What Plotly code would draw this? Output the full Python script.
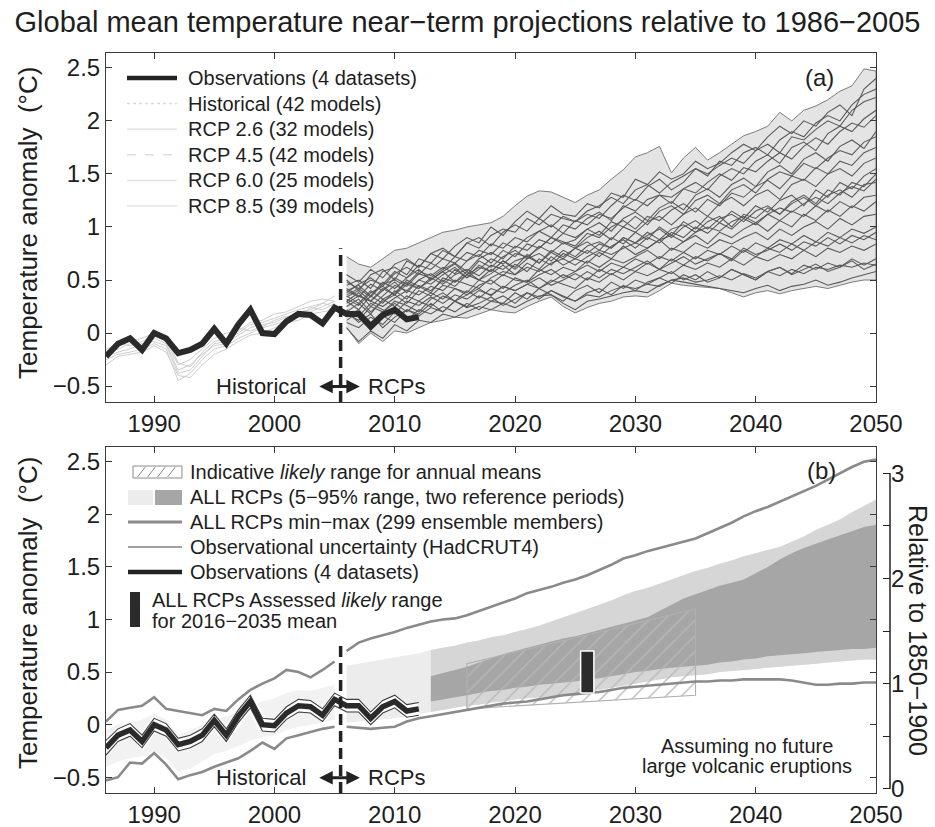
import plotly.graph_objects as go

FONT = "Liberation Sans, Arial, Helvetica, sans-serif"
INK = "#1e1e1e"

# ---------------- data ----------------
obs_years = list(range(1986, 2013))
obs_anom = [-0.22, -0.10, -0.05, -0.16, 0.00, -0.05, -0.19, -0.16, -0.10, 0.04,
            -0.10, 0.08, 0.22, 0.00, -0.01, 0.11, 0.18, 0.17, 0.09, 0.24,
            0.18, 0.18, 0.06, 0.17, 0.22, 0.13, 0.15]
obs_unc_hi = [-0.15, -0.04, 0.01, -0.10, 0.06, 0.01, -0.13, -0.10, -0.04, 0.10,
              -0.04, 0.14, 0.28, 0.06, 0.05, 0.17, 0.24, 0.23, 0.15, 0.30,
              0.24, 0.24, 0.12, 0.23, 0.28, 0.19, 0.21]
obs_unc_lo = [-0.29, -0.16, -0.11, -0.22, -0.06, -0.11, -0.25, -0.22, -0.16, -0.02,
              -0.16, 0.02, 0.16, -0.06, -0.07, 0.05, 0.12, 0.11, 0.03, 0.18,
              0.12, 0.12, 0.00, 0.11, 0.16, 0.07, 0.09]

hist_years = list(range(1986, 2006))
hist_m1 = [-0.20, -0.15, -0.10, -0.12, -0.05, -0.10, -0.35, -0.30, -0.20, -0.12,
           -0.10, -0.02, 0.05, 0.08, 0.10, 0.15, 0.18, 0.20, 0.25, 0.30]
hist_m2 = [-0.25, -0.20, -0.18, -0.15, -0.10, -0.15, -0.45, -0.38, -0.25, -0.15,
           -0.12, -0.05, 0.00, 0.05, 0.08, 0.12, 0.20, 0.22, 0.28, 0.25]
hist_m3 = [-0.15, -0.12, -0.08, -0.05, 0.00, -0.05, -0.28, -0.32, -0.18, -0.08,
           -0.05, 0.00, 0.08, 0.10, 0.14, 0.18, 0.22, 0.25, 0.28, 0.35]
hist_m4 = [-0.30, -0.22, -0.20, -0.18, -0.12, -0.18, -0.40, -0.42, -0.30, -0.20,
           -0.15, -0.08, -0.02, 0.00, 0.05, 0.10, 0.12, 0.18, 0.20, 0.22]
hist_m5 = [-0.18, -0.10, -0.12, -0.08, -0.02, -0.08, -0.30, -0.25, -0.15, -0.05,
           0.00, 0.02, 0.10, 0.12, 0.18, 0.20, 0.25, 0.30, 0.32, 0.30]
hist_m6 = [-0.22, -0.18, -0.15, -0.10, -0.08, -0.12, -0.38, -0.35, -0.22, -0.10,
           -0.08, 0.05, 0.02, 0.06, 0.12, 0.16, 0.15, 0.24, 0.22, 0.28]

rcp_years = list(range(2006, 2051))
rcp_m1 = [0.45, 0.5, 0.42, 0.58, 0.62, 0.55, 0.7, 0.66, 0.78, 0.72, 0.85, 0.8, 0.92, 0.98, 0.95,
          1.08, 1.02, 1.12, 1.08, 1.05, 1.15, 1.2, 1.28, 1.22, 1.35, 1.4, 1.32, 1.42, 1.48, 1.55,
          1.5, 1.58, 1.65, 1.6, 1.72, 1.78, 1.7, 1.85, 1.82, 1.92, 2.0, 1.95, 2.1, 2.18, 2.22]
rcp_m2 = [0.3, 0.38, 0.25, 0.35, 0.45, 0.4, 0.5, 0.46, 0.55, 0.62, 0.52, 0.6, 0.7, 0.65, 0.75,
          0.72, 0.8, 0.9, 0.84, 0.88, 0.98, 0.92, 1.05, 1.0, 1.1, 1.02, 1.15, 1.2, 1.12, 1.25,
          1.3, 1.22, 1.35, 1.4, 1.32, 1.45, 1.52, 1.48, 1.6, 1.55, 1.65, 1.72, 1.68, 1.8, 1.85]
rcp_m3 = [0.2, 0.1, 0.18, 0.05, 0.15, 0.22, 0.18, 0.28, 0.2, 0.3, 0.25, 0.35, 0.3, 0.28, 0.38,
          0.32, 0.42, 0.36, 0.3, 0.4, 0.45, 0.38, 0.48, 0.42, 0.5, 0.46, 0.52, 0.58, 0.5, 0.55,
          0.48, 0.52, 0.6, 0.55, 0.5, 0.58, 0.62, 0.55, 0.6, 0.65, 0.58, 0.62, 0.68, 0.6, 0.65]
rcp_m4 = [0.35, 0.28, 0.4, 0.32, 0.38, 0.48, 0.42, 0.5, 0.58, 0.48, 0.55, 0.62, 0.58, 0.68, 0.6,
          0.7, 0.75, 0.68, 0.78, 0.72, 0.82, 0.86, 0.8, 0.9, 0.85, 0.95, 0.88, 0.98, 1.02, 0.95,
          1.05, 1.1, 1.0, 1.12, 1.08, 1.18, 1.12, 1.22, 1.28, 1.2, 1.3, 1.35, 1.28, 1.4, 1.42]
rcp_m5 = [0.25, 0.32, 0.2, 0.3, 0.36, 0.28, 0.4, 0.35, 0.45, 0.42, 0.38, 0.5, 0.46, 0.55, 0.5,
          0.48, 0.6, 0.55, 0.62, 0.58, 0.68, 0.62, 0.7, 0.66, 0.72, 0.78, 0.7, 0.8, 0.76, 0.85,
          0.8, 0.88, 0.84, 0.9, 0.95, 0.88, 0.98, 0.92, 1.0, 1.05, 0.98, 1.08, 1.02, 1.1, 1.12]
rcp_m6 = [0.5, 0.4, 0.55, 0.6, 0.5, 0.68, 0.62, 0.75, 0.7, 0.82, 0.9, 0.85, 1.0, 0.92, 1.05,
          1.15, 1.08, 1.2, 1.12, 1.1, 1.22, 1.18, 1.32, 1.28, 1.45, 1.4, 1.52, 1.45, 1.5, 1.62,
          1.55, 1.6, 1.7, 1.78, 1.72, 1.85, 1.95, 1.88, 2.0, 1.95, 2.08, 2.15, 2.05, 2.3, 2.4]
rcp_m7 = [0.15, 0.22, 0.1, 0.2, 0.28, 0.2, 0.3, 0.25, 0.35, 0.3, 0.4, 0.33, 0.42, 0.38, 0.45,
          0.5, 0.42, 0.48, 0.55, 0.5, 0.58, 0.52, 0.6, 0.56, 0.62, 0.68, 0.6, 0.66, 0.72, 0.65,
          0.7, 0.75, 0.68, 0.78, 0.72, 0.8, 0.76, 0.84, 0.78, 0.86, 0.82, 0.9, 0.85, 0.92, 0.88]
rcp_m8 = [0.4, 0.45, 0.35, 0.48, 0.42, 0.52, 0.6, 0.5, 0.58, 0.65, 0.55, 0.68, 0.62, 0.72, 0.78,
          0.7, 0.82, 0.76, 0.85, 0.8, 0.9, 0.96, 0.88, 1.0, 0.95, 1.05, 1.1, 1.02, 1.12, 1.18,
          1.1, 1.22, 1.28, 1.2, 1.3, 1.35, 1.26, 1.4, 1.45, 1.38, 1.5, 1.55, 1.48, 1.6, 1.65]
rcp_m9 = [0.1, 0.05, 0.15, 0.08, 0.2, 0.12, 0.22, 0.18, 0.25, 0.2, 0.28, 0.22, 0.3, 0.35, 0.28,
          0.38, 0.32, 0.4, 0.35, 0.3, 0.38, 0.42, 0.36, 0.45, 0.4, 0.48, 0.52, 0.47, 0.55, 0.5,
          0.58, 0.52, 0.6, 0.55, 0.5, 0.58, 0.62, 0.56, 0.64, 0.6, 0.66, 0.62, 0.7, 0.64, 0.7]
rcp_m10 = [0.3, 0.22, 0.35, 0.28, 0.4, 0.32, 0.45, 0.4, 0.5, 0.44, 0.55, 0.5, 0.6, 0.54, 0.65,
           0.58, 0.7, 0.64, 0.75, 0.7, 0.78, 0.72, 0.82, 0.88, 0.8, 0.9, 0.85, 0.95, 0.9, 1.0,
           0.94, 1.04, 0.98, 1.08, 1.02, 1.12, 1.06, 1.15, 1.1, 1.2, 1.14, 1.24, 1.18, 1.28, 1.3]
rcp_m11 = [0.38, 0.46, 0.52, 0.44, 0.56, 0.62, 0.55, 0.66, 0.6, 0.72, 0.68, 0.78, 0.74, 0.85, 0.8,
           0.9, 0.96, 0.9, 1.02, 0.98, 1.08, 1.14, 1.06, 1.2, 1.15, 1.26, 1.3, 1.22, 1.36, 1.42,
           1.35, 1.48, 1.55, 1.5, 1.62, 1.68, 1.6, 1.75, 1.8, 1.72, 1.88, 1.95, 1.9, 2.02, 2.1]
rcp_m12 = [0.2, 0.28, 0.18, 0.32, 0.25, 0.35, 0.3, 0.38, 0.32, 0.42, 0.36, 0.45, 0.5, 0.42, 0.52,
           0.48, 0.55, 0.6, 0.52, 0.58, 0.64, 0.58, 0.66, 0.62, 0.7, 0.65, 0.72, 0.68, 0.76, 0.7,
           0.78, 0.74, 0.82, 0.76, 0.85, 0.8, 0.88, 0.84, 0.92, 0.86, 0.95, 0.9, 0.98, 0.94, 1.0]
rcp_m13 = [0.42, 0.35, 0.3, 0.4, 0.48, 0.38, 0.5, 0.56, 0.48, 0.6, 0.52, 0.64, 0.58, 0.68, 0.62,
           0.74, 0.66, 0.78, 0.72, 0.8, 0.86, 0.78, 0.9, 0.84, 0.95, 0.88, 1.0, 0.92, 1.05, 0.98,
           1.1, 1.04, 1.15, 1.08, 1.2, 1.14, 1.25, 1.3, 1.2, 1.35, 1.28, 1.42, 1.36, 1.48, 1.55]
rcp_m14 = [0.05, -0.08, 0.02, -0.05, 0.08, 0.02, 0.12, 0.1, 0.18, 0.15, 0.2, 0.25, 0.22, 0.28, 0.24,
           0.3, 0.35, 0.36, 0.28, 0.22, 0.3, 0.32, 0.35, 0.38, 0.4, 0.38, 0.45, 0.5, 0.48, 0.46,
           0.44, 0.42, 0.4, 0.38, 0.42, 0.45, 0.4, 0.44, 0.46, 0.5, 0.45, 0.48, 0.52, 0.55, 0.58]
rcp_m15 = [0.28, 0.35, 0.3, 0.25, 0.33, 0.4, 0.36, 0.44, 0.4, 0.5, 0.46, 0.42, 0.52, 0.58, 0.55,
           0.62, 0.58, 0.66, 0.7, 0.64, 0.72, 0.78, 0.74, 0.8, 0.85, 0.8, 0.88, 0.92, 0.86, 0.95,
           1.0, 0.96, 1.05, 1.1, 1.04, 1.12, 1.18, 1.14, 1.22, 1.28, 1.22, 1.32, 1.38, 1.34, 1.45]
rcp_m16 = [0.55, 0.48, 0.6, 0.52, 0.65, 0.7, 0.62, 0.75, 0.8, 0.72, 0.85, 0.9, 0.82, 0.95, 1.02,
           0.96, 1.08, 1.0, 1.1, 1.05, 1.12, 1.08, 1.2, 1.3, 1.25, 1.38, 1.45, 1.35, 1.42, 1.55,
           1.48, 1.62, 1.58, 1.7, 1.75, 1.68, 1.82, 1.9, 1.85, 1.98, 2.05, 2.0, 2.15, 2.25, 2.3]
rcp_m17 = [0.32, 0.26, 0.38, 0.44, 0.36, 0.46, 0.42, 0.52, 0.46, 0.55, 0.6, 0.54, 0.64, 0.6, 0.68,
           0.72, 0.66, 0.76, 0.7, 0.8, 0.75, 0.84, 0.8, 0.9, 0.85, 0.92, 0.98, 0.9, 1.0, 1.06,
           0.98, 1.08, 1.12, 1.05, 1.15, 1.2, 1.12, 1.24, 1.3, 1.22, 1.35, 1.3, 1.42, 1.38, 1.5]
rcp_m18 = [0.18, 0.12, 0.25, 0.2, 0.3, 0.26, 0.2, 0.32, 0.38, 0.3, 0.36, 0.42, 0.35, 0.44, 0.4,
           0.46, 0.52, 0.45, 0.5, 0.56, 0.5, 0.6, 0.55, 0.62, 0.58, 0.66, 0.6, 0.7, 0.64, 0.72,
           0.68, 0.75, 0.7, 0.8, 0.74, 0.78, 0.84, 0.78, 0.86, 0.82, 0.9, 0.84, 0.92, 0.88, 0.95]
rcp_m19 = [0.36, 0.42, 0.34, 0.46, 0.5, 0.44, 0.56, 0.52, 0.6, 0.66, 0.58, 0.7, 0.76, 0.7, 0.82,
           0.78, 0.88, 0.84, 0.94, 0.9, 0.98, 1.04, 0.96, 1.08, 1.14, 1.06, 1.18, 1.24, 1.16, 1.3,
           1.36, 1.28, 1.4, 1.46, 1.38, 1.52, 1.58, 1.5, 1.64, 1.7, 1.62, 1.76, 1.82, 1.74, 1.9]
rcp_m20 = [0.22, 0.16, 0.28, 0.22, 0.18, 0.3, 0.26, 0.34, 0.28, 0.36, 0.32, 0.4, 0.36, 0.44, 0.4,
           0.46, 0.42, 0.5, 0.46, 0.42, 0.52, 0.48, 0.56, 0.5, 0.58, 0.54, 0.6, 0.56, 0.64, 0.6,
           0.66, 0.62, 0.7, 0.64, 0.72, 0.68, 0.74, 0.7, 0.78, 0.72, 0.8, 0.76, 0.82, 0.78, 0.84]
rcp_m21 = [0.34, 0.4, 0.3, 0.42, 0.36, 0.5, 0.44, 0.38, 0.52, 0.48, 0.58, 0.5, 0.56, 0.64, 0.55,
           0.66, 0.6, 0.72, 0.64, 0.7, 0.66, 0.76, 0.7, 0.82, 0.74, 0.8, 0.88, 0.78, 0.86, 0.92,
           0.84, 0.95, 0.9, 0.98, 1.04, 0.96, 1.06, 1.0, 1.12, 1.06, 1.16, 1.1, 1.2, 1.15, 1.24]
rcp_m22 = [0.48, 0.42, 0.5, 0.46, 0.58, 0.52, 0.64, 0.6, 0.7, 0.66, 0.76, 0.72, 0.84, 0.8, 0.9,
           0.86, 0.96, 1.02, 0.94, 1.06, 1.02, 1.12, 1.08, 1.18, 1.26, 1.2, 1.3, 1.28, 1.36, 1.32,
           1.42, 1.5, 1.44, 1.56, 1.52, 1.62, 1.7, 1.64, 1.76, 1.84, 1.78, 1.9, 1.98, 1.94, 2.05]
rcp_m23 = [0.12, 0.2, 0.08, 0.16, 0.1, 0.22, 0.16, 0.24, 0.2, 0.3, 0.24, 0.28, 0.34, 0.26, 0.32,
           0.38, 0.34, 0.4, 0.34, 0.3, 0.36, 0.34, 0.4, 0.44, 0.42, 0.46, 0.44, 0.5, 0.52, 0.48,
           0.5, 0.54, 0.5, 0.56, 0.52, 0.58, 0.54, 0.6, 0.56, 0.62, 0.6, 0.64, 0.62, 0.66, 0.64]
rcp_m24 = [0.4, 0.34, 0.46, 0.4, 0.52, 0.46, 0.58, 0.54, 0.62, 0.56, 0.68, 0.74, 0.66, 0.78, 0.72,
           0.84, 0.8, 0.9, 0.86, 0.82, 0.94, 0.9, 1.0, 1.06, 0.98, 1.1, 1.06, 1.16, 1.22, 1.14,
           1.26, 1.2, 1.32, 1.28, 1.38, 1.44, 1.36, 1.48, 1.44, 1.56, 1.5, 1.62, 1.58, 1.7, 1.75]
rcp_env_hi = [0.72, 0.65, 0.62, 0.7, 0.78, 0.8, 0.85, 0.9, 0.95, 0.97, 1.0, 1.02, 1.04, 1.1, 1.2,
              1.29, 1.34, 1.33, 1.28, 1.23, 1.3, 1.35, 1.45, 1.54, 1.66, 1.7, 1.76, 1.51, 1.65, 1.75,
              1.63, 1.7, 1.78, 1.86, 1.9, 1.95, 2.08, 2.0, 2.1, 2.14, 2.2, 2.28, 2.33, 2.49, 2.47]
rcp_env_lo = [0.05, -0.1, 0.0, -0.08, 0.02, 0.0, 0.05, 0.1, 0.12, 0.15, 0.14, 0.18, 0.22, 0.2, 0.19,
              0.25, 0.3, 0.34, 0.25, 0.19, 0.24, 0.28, 0.3, 0.34, 0.35, 0.34, 0.4, 0.47, 0.45, 0.44,
              0.43, 0.42, 0.38, 0.34, 0.38, 0.4, 0.37, 0.4, 0.42, 0.44, 0.42, 0.45, 0.48, 0.5, 0.5]

all_years = list(range(1986, 2051))
minmax_hi = [0.03, 0.14, 0.16, 0.18, 0.26, 0.15, 0.13, 0.11, 0.09, 0.15,
             0.13, 0.24, 0.33, 0.39, 0.44, 0.52, 0.5, 0.45, 0.52, 0.6,
             0.7, 0.78, 0.82, 0.85, 0.88, 0.92, 0.95, 0.98, 1.0, 1.01,
             1.04, 1.08, 1.12, 1.16, 1.2, 1.25, 1.28, 1.31, 1.35, 1.38,
             1.42, 1.47, 1.52, 1.58, 1.61, 1.65, 1.68, 1.71, 1.74, 1.77,
             1.82, 1.87, 1.92, 1.98, 2.03, 2.07, 2.12, 2.17, 2.22, 2.27,
             2.33, 2.39, 2.45, 2.5, 2.52]
minmax_lo = [-0.53, -0.5, -0.36, -0.37, -0.27, -0.38, -0.52, -0.48, -0.45, -0.4,
             -0.36, -0.32, -0.25, -0.17, -0.23, -0.13, -0.1, -0.07, -0.04, -0.02,
             -0.02, -0.03, -0.04, -0.03, -0.02, 0.03, 0.06, 0.08, 0.1, 0.12,
             0.14, 0.16, 0.18, 0.2, 0.21, 0.22, 0.24, 0.26, 0.28, 0.29,
             0.3, 0.31, 0.33, 0.35, 0.36, 0.37, 0.38, 0.39, 0.4, 0.41,
             0.41, 0.42, 0.42, 0.43, 0.43, 0.43, 0.43, 0.42, 0.4, 0.38,
             0.38, 0.39, 0.39, 0.4, 0.4]
hist_range_hi = [-0.05, 0.0, 0.02, 0.05, 0.1, 0.05, -0.1, -0.05, 0.0, 0.05,
                 0.08, 0.12, 0.18, 0.22, 0.25, 0.3, 0.33, 0.32, 0.35, 0.38]
hist_range_lo = [-0.4, -0.35, -0.32, -0.3, -0.25, -0.32, -0.45, -0.42, -0.35, -0.28,
                 -0.25, -0.2, -0.15, -0.12, -0.1, -0.05, -0.02, 0.0, 0.02, 0.05]

proj_years = list(range(2006, 2051))
range_a_hi = [0.56, 0.58, 0.6, 0.62, 0.64, 0.66, 0.68, 0.71, 0.73, 0.75,
              0.78, 0.8, 0.83, 0.85, 0.88, 0.91, 0.94, 0.98, 1.02, 1.06,
              1.1, 1.14, 1.18, 1.23, 1.27, 1.3, 1.34, 1.38, 1.42, 1.46,
              1.49, 1.53, 1.56, 1.6, 1.63, 1.66, 1.69, 1.74, 1.79, 1.85,
              1.9, 1.95, 2.02, 2.08, 2.14]
range_a_lo = [0.02, 0.03, 0.04, 0.05, 0.06, 0.08, 0.1, 0.12, 0.14, 0.16,
              0.18, 0.19, 0.21, 0.22, 0.24, 0.25, 0.26, 0.27, 0.28, 0.3,
              0.31, 0.33, 0.35, 0.37, 0.39, 0.41, 0.43, 0.45, 0.46, 0.47,
              0.48, 0.5, 0.51, 0.52, 0.53, 0.54, 0.55, 0.56, 0.57, 0.58,
              0.59, 0.6, 0.61, 0.62, 0.62]
range_b_years = list(range(2013, 2051))
range_b_hi = [0.46, 0.49, 0.52, 0.55, 0.59, 0.63, 0.67, 0.7, 0.73, 0.76,
              0.79, 0.82, 0.84, 0.87, 0.9, 0.93, 0.96, 0.99, 1.02, 1.08,
              1.14, 1.2, 1.24, 1.28, 1.32, 1.35, 1.38, 1.44, 1.5, 1.57,
              1.63, 1.68, 1.72, 1.76, 1.8, 1.84, 1.88, 1.9]
range_b_lo = [0.22, 0.24, 0.26, 0.28, 0.3, 0.32, 0.33, 0.35, 0.36, 0.38,
              0.39, 0.4, 0.41, 0.43, 0.44, 0.46, 0.48, 0.5, 0.51, 0.53,
              0.54, 0.55, 0.56, 0.57, 0.59, 0.6, 0.62, 0.63, 0.65, 0.66,
              0.67, 0.68, 0.69, 0.7, 0.71, 0.72, 0.72, 0.73]

indicative_years = [2016, 2035]
indicative_lo = [0.15, 0.28]
indicative_hi = [0.58, 1.10]
assessed_year = 2026
assessed_width = 1.1
assessed_lo = 0.3
assessed_hi = 0.7

split_year = 2005.5
split_top = 0.8
ref_offset = 0.61

x_range = [1986, 2050]
y_range = [-0.65, 2.64]
x_ticks = [1990, 2000, 2010, 2020, 2030, 2040, 2050]
right_ticks = [0, 0.5, 1, 1.5, 2, 2.5, 3]
right_ticklabels = ["0", "", "1", "", "2", "", "3"]

hist_models = [hist_m1, hist_m2, hist_m3, hist_m4, hist_m5, hist_m6]
rcp_models = [rcp_m1, rcp_m2, rcp_m3, rcp_m4, rcp_m5, rcp_m6, rcp_m7, rcp_m8, rcp_m9,
              rcp_m10, rcp_m11, rcp_m12, rcp_m13, rcp_m14, rcp_m15, rcp_m16, rcp_m17, rcp_m18,
              rcp_m19, rcp_m20, rcp_m21, rcp_m22, rcp_m23, rcp_m24]


def band(xs, hi, lo):
    return list(xs) + list(xs)[::-1], list(hi) + list(lo)[::-1]


fig = go.Figure()
T = dict(xaxis="x", yaxis="y", hoverinfo="skip", showlegend=False)
B = dict(xaxis="x2", yaxis="y2", hoverinfo="skip", showlegend=False)

# ---------------- panel (a) ----------------
bx, by = band(rcp_years, rcp_env_hi, rcp_env_lo)
fig.add_trace(go.Scatter(x=bx, y=by, fill="toself", fillcolor="#e4e4e4", mode="lines",
                         line=dict(color="#6e6e6e", width=0.9), **T))
for m in hist_models:
    fig.add_trace(go.Scatter(x=hist_years, y=m, mode="lines",
                             line=dict(color="#cdcdcd", width=1), **T))
for m in rcp_models:
    fig.add_trace(go.Scatter(x=rcp_years, y=m, mode="lines",
                             line=dict(color="#585858", width=1.05), **T))
fig.add_trace(go.Scatter(x=obs_years, y=obs_anom, mode="lines",
                         line=dict(color="#2a2a2a", width=6), **T))

# ---------------- panel (b) ----------------
bx, by = band(hist_years, hist_range_hi, hist_range_lo)
fig.add_trace(go.Scatter(x=bx, y=by, fill="toself", fillcolor="#f2f2f2", mode="none", **B))
bx, by = band(proj_years, range_a_hi, range_a_lo)
fig.add_trace(go.Scatter(x=bx, y=by, fill="toself", fillcolor="#ececec", mode="none", **B))
i0 = proj_years.index(range_b_years[0])
bx, by = band(proj_years[i0:], range_a_hi[i0:], range_a_lo[i0:])
fig.add_trace(go.Scatter(x=bx, y=by, fill="toself", fillcolor="#d6d6d6", mode="none", **B))
bx, by = band(range_b_years, range_b_hi, range_b_lo)
fig.add_trace(go.Scatter(x=bx, y=by, fill="toself", fillcolor="#a6a6a6", mode="none", **B))

hx = [indicative_years[0], indicative_years[1], indicative_years[1], indicative_years[0], indicative_years[0]]
hy = [indicative_lo[0], indicative_lo[1], indicative_hi[1], indicative_hi[0], indicative_lo[0]]
fig.add_trace(go.Scatter(x=hx, y=hy, fill="toself", mode="lines",
                         fillpattern=dict(shape="/", fgcolor="#b8b8b8", size=11, solidity=0.12),
                         line=dict(color="#b0b0b0", width=1.1), **B))

k = all_years.index(2006)
for seg in (slice(0, k), slice(k, None)):
    fig.add_trace(go.Scatter(x=all_years[seg], y=minmax_hi[seg], mode="lines",
                             line=dict(color="#8a8a8a", width=2.6), **B))
    fig.add_trace(go.Scatter(x=all_years[seg], y=minmax_lo[seg], mode="lines",
                             line=dict(color="#8a8a8a", width=2.6), **B))

fig.add_trace(go.Scatter(x=obs_years, y=obs_anom, mode="lines",
                         line=dict(color="white", width=11), **B))
for u in (obs_unc_hi, obs_unc_lo):
    fig.add_trace(go.Scatter(x=obs_years, y=u, mode="lines",
                             line=dict(color="#3c3c3c", width=1.1), **B))
fig.add_trace(go.Scatter(x=obs_years, y=obs_anom, mode="lines",
                         line=dict(color="#2a2a2a", width=5.5), **B))

ax0 = assessed_year - assessed_width / 2
ax1 = assessed_year + assessed_width / 2
fig.add_trace(go.Scatter(x=[ax0, ax1, ax1, ax0, ax0],
                         y=[assessed_lo, assessed_lo, assessed_hi, assessed_hi, assessed_lo],
                         fill="toself", fillcolor="#2b2b2b", mode="lines",
                         line=dict(color="white", width=1.5), **B))

# ---------------- layout ----------------
axc = dict(showgrid=False, zeroline=False, showline=True, linecolor="#3a3a3a", linewidth=1,
           mirror="ticks", ticks="inside", ticklen=6, tickwidth=1, tickcolor="#3a3a3a",
           tickfont=dict(family=FONT, size=24, color=INK), automargin=False)
XD = [0, 770 / 784]

fig.update_layout(
    width=935, height=827,
    margin=dict(l=106, r=45, t=53, b=34),
    paper_bgcolor="white", plot_bgcolor="white",
    template="none", showlegend=False,
    font=dict(family=FONT, color=INK),
    title=dict(text="Global mean temperature near\u2212term projections relative to 1986\u22122005",
               x=0.5, xref="container", xanchor="center",
               y=1 - 22 / 827, yref="container", yanchor="middle",
               font=dict(family=FONT, size=29, color=INK)),
    xaxis=dict(domain=XD, anchor="y", range=x_range, tickvals=x_ticks, **axc),
    yaxis=dict(domain=[391 / 740, 1], anchor="x", range=y_range, tick0=0, dtick=0.5, **axc),
    xaxis2=dict(domain=XD, anchor="y2", range=x_range, tickvals=x_ticks, **axc),
    yaxis2=dict(domain=[0, 346 / 740], anchor="x2", range=y_range, tick0=0, dtick=0.5, **axc),
    yaxis3=dict(overlaying="y2", anchor="free", position=1.0, side="right",
                range=[y_range[0] + ref_offset, y_range[1] + ref_offset],
                tickvals=right_ticks, ticktext=right_ticklabels,
                ticks="inside", ticklen=7, tickwidth=1, tickcolor="#222",
                showline=False, showgrid=False, zeroline=False, automargin=False,
                tickfont=dict(family=FONT, size=24, color=INK)),
)

shapes = []
annos = []

# right axis line (0..3 only)
shapes.append(dict(type="line", xref="paper", yref="y3", x0=1.0, x1=1.0,
                   y0=right_ticks[0], y1=right_ticks[-1], line=dict(color="#222", width=1.5)))

# dashed Historical/RCP divider
for xr, yr in (("x", "y"), ("x2", "y2")):
    shapes.append(dict(type="line", xref=xr, yref=yr, x0=split_year, x1=split_year,
                       y0=y_range[0], y1=split_top, layer="above",
                       line=dict(color="#222", width=3.5, dash="11px,6px")))
    annos.append(dict(xref=xr, yref=yr, x=2007.1, y=-0.505, ax=2003.6, ay=-0.505,
                      axref=xr, ayref=yr, text="", showarrow=True, arrowhead=2,
                      arrowside="end+start", arrowsize=0.9, arrowwidth=3, arrowcolor="#222"))
    annos.append(dict(xref=xr, yref=yr, x=2002.8, y=-0.505, text="Historical", showarrow=False,
                      xanchor="right", yanchor="middle", font=dict(size=22, color=INK, family=FONT)))
    annos.append(dict(xref=xr, yref=yr, x=2007.6, y=-0.505, text="RCPs", showarrow=False,
                      xanchor="left", yanchor="middle", font=dict(size=22, color=INK, family=FONT)))

# axis titles
for yc in (0.7703, 0.2432):
    annos.append(dict(xref="paper", yref="paper", x=-0.0995, y=yc,
                      text="Temperature anomaly\u00a0\u00a0(\u00b0C)",
                      textangle=-90, showarrow=False, xanchor="center", yanchor="middle",
                      font=dict(size=26, color=INK, family=FONT)))
annos.append(dict(xref="paper", yref="paper", x=(918 - 106) / 784, y=0.2203,
                  text="Relative to 1850\u22121900",
                  textangle=90, showarrow=False, xanchor="center", yanchor="middle",
                  font=dict(size=25, color=INK, family=FONT)))

# panel labels
annos.append(dict(xref="x domain", yref="y domain", x=0.926, y=0.931, text="(a)", showarrow=False,
                  xanchor="center", yanchor="middle", font=dict(size=24, color=INK, family=FONT)))
annos.append(dict(xref="x2 domain", yref="y2 domain", x=0.9286, y=0.9335, text="(b)", showarrow=False,
                  xanchor="center", yanchor="middle", font=dict(size=24, color=INK, family=FONT)))

annos.append(dict(xref="x2 domain", yref="y2 domain", x=0.8325, y=(793 - 746) / 346,
                  text="Assuming no future", showarrow=False, xanchor="center", yanchor="middle",
                  font=dict(size=20, color=INK, family=FONT)))
annos.append(dict(xref="x2 domain", yref="y2 domain", x=0.8325, y=(793 - 766) / 346,
                  text="large volcanic eruptions", showarrow=False, xanchor="center", yanchor="middle",
                  font=dict(size=20, color=INK, family=FONT)))

LF = dict(size=20, color=INK, family=FONT)

# legend (a)
top_rows = [
    ("Observations (4 datasets)", dict(color="#222", width=4.5)),
    ("Historical (42 models)", dict(color="#dadada", width=1.5, dash="dot")),
    ("RCP 2.6 (32 models)", dict(color="#e2e2e2", width=1.5)),
    ("RCP 4.5 (42 models)", dict(color="#dedede", width=1.5, dash="dash")),
    ("RCP 6.0 (25 models)", dict(color="#e2e2e2", width=1.5)),
    ("RCP 8.5 (39 models)", dict(color="#e4e4e4", width=1.5)),
]
for i, (txt, ln) in enumerate(top_rows):
    yd = (402 - (78 + 25.6 * i)) / 349
    shapes.append(dict(type="line", xref="x domain", yref="y domain", x0=0.0273, x1=0.0922,
                       y0=yd, y1=yd, line=ln))
    annos.append(dict(xref="x domain", yref="y domain", x=0.1039, y=yd, text=txt, showarrow=False,
                      xanchor="left", yanchor="middle", font=LF))


# legend (b)
def yb(px):
    return (793 - px) / 346


R = dict(xref="x2 domain", yref="y2 domain")
shapes.append(dict(type="rect", x0=0.0351, x1=0.0987, y0=yb(478), y1=yb(466),
                   line=dict(color="#8a8a8a", width=1), fillcolor="white", **R))
for xs in (0.041, 0.054, 0.067, 0.080):
    shapes.append(dict(type="line", x0=xs, x1=xs + 0.010, y0=yb(477), y1=yb(467),
                       line=dict(color="#8a8a8a", width=1), **R))
shapes.append(dict(type="rect", x0=0.0286, x1=0.061, y0=yb(505), y1=yb(490),
                   line=dict(width=0), fillcolor="#ececec", **R))
shapes.append(dict(type="rect", x0=0.0636, x1=0.0987, y0=yb(505), y1=yb(490),
                   line=dict(width=0), fillcolor="#a6a6a6", **R))
shapes.append(dict(type="line", x0=0.0286, x1=0.0987, y0=yb(522), y1=yb(522),
                   line=dict(color="#8a8a8a", width=3), **R))
shapes.append(dict(type="line", x0=0.0286, x1=0.0987, y0=yb(547), y1=yb(547),
                   line=dict(color="#444", width=1.2), **R))
shapes.append(dict(type="line", x0=0.0286, x1=0.0987, y0=yb(572), y1=yb(572),
                   line=dict(color="#222", width=4.5), **R))
shapes.append(dict(type="rect", x0=0.0312, x1=0.0442, y0=yb(627), y1=yb(592),
                   line=dict(width=0), fillcolor="#2b2b2b", **R))

bot_rows = [
    (472, "Indicative <i>likely</i> range for annual means"),
    (497, "ALL RCPs (5\u221295% range, two reference periods)"),
    (522, "ALL RCPs min\u2212max (299 ensemble members)"),
    (547, "Observational uncertainty (HadCRUT4)"),
    (572, "Observations (4 datasets)"),
]
for py, txt in bot_rows:
    annos.append(dict(x=0.1065, y=yb(py), text=txt, showarrow=False, xanchor="left",
                      yanchor="middle", font=LF, **R))
annos.append(dict(x=0.0571, y=yb(600), text="ALL RCPs Assessed <i>likely</i> range", showarrow=False,
                  xanchor="left", yanchor="middle", font=LF, **R))
annos.append(dict(x=0.0571, y=yb(621), text="for 2016\u22122035 mean", showarrow=False,
                  xanchor="left", yanchor="middle", font=LF, **R))

fig.update_layout(shapes=shapes, annotations=annos)
fig.write_html("out.html",
               config={"displayModeBar": False},
               post_script="document.body.style.margin='0px';document.body.style.padding='0px';")
